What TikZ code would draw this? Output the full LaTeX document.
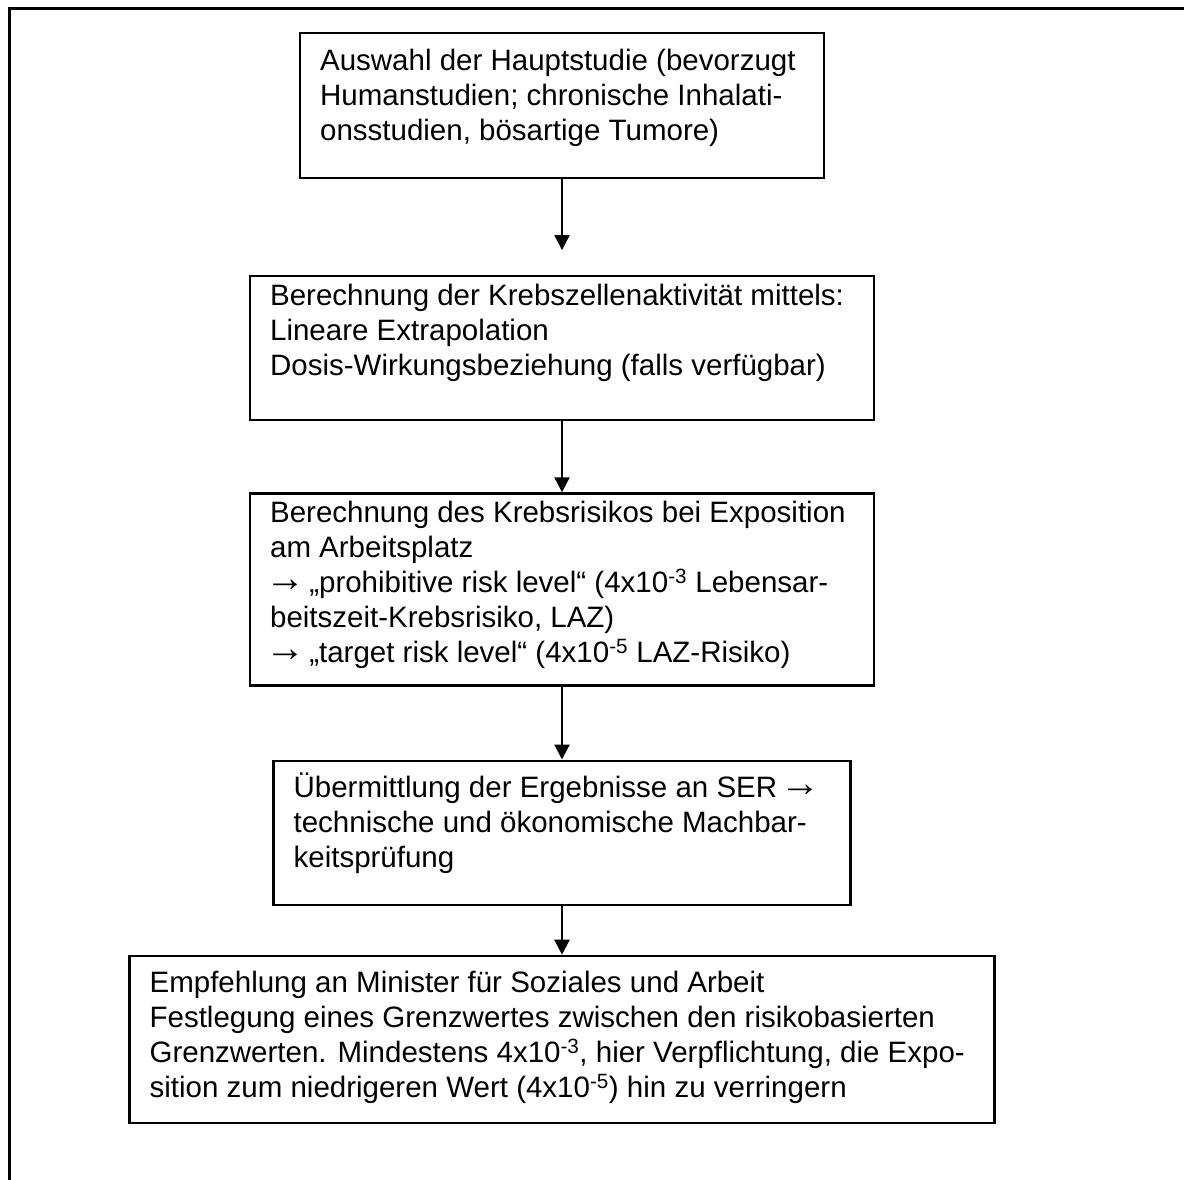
\documentclass[tikz,border=0pt]{standalone}
\usepackage{fontspec}
\setmainfont{Liberation Sans}
\newcommand{\rarr}{\kern-5pt\raisebox{1pt}{\fontsize{40}{35}\selectfont →}\kern-4pt}
\usepackage{tikz}
\usetikzlibrary{arrows.meta, positioning}

\begin{document}
\begin{tikzpicture}[
  x=1pt, y=-1pt,
  box/.style={draw, line width=2.2pt, inner sep=0pt},
  txt/.style={anchor=north west, align=left, inner xsep=21pt, inner ysep=13.5pt,
              font=\fontsize{29.5}{35}\selectfont},
  arr/.style={-{Triangle[length=15pt, width=15pt]}, line width=2.2pt},
  frame/.style={line width=3pt},
]
  \useasboundingbox (0,0) rectangle (1184,1180);
  \draw[frame] (1184,9) -| (9,1180);

  \node[box, minimum width=524pt, minimum height=145pt] (B1) at (562,105.5) {};
  \node[box, minimum width=624pt, minimum height=144pt, below=96pt of B1] (B2) {};
  \node[box, minimum width=624pt, minimum height=192pt, below=71pt of B2] (B3) {};
  \node[box, minimum width=577pt, minimum height=144pt, below=73pt of B3] (B4) {};
  \node[box, minimum width=865pt, minimum height=167pt, below=49pt of B4] (B5) {};

  \node[txt] (T1) at (B1.north west) {\strut Auswahl der Hauptstudie (bevorzugt\\ Humanstudien; chronische Inhalati-\\ onsstudien, bösartige Tumore)};
  \node[txt, inner ysep=5.5pt] (T2) at (B2.north west) {\strut Berechnung der Krebszellenaktivität mittels:\\ Lineare Extrapolation\\ Dosis-Wirkungsbeziehung (falls verfügbar)};
  \node[txt, inner ysep=5.5pt] (T3) at (B3.north west) {\strut Berechnung des Krebsrisikos bei Exposition\\ am Arbeitsplatz\\ \rarr\ „prohibitive risk level“ (4x10\textsuperscript{-3} Lebensar-\\ beitszeit-Krebsrisiko, LAZ)\\ \rarr\ „target risk level“ (4x10\textsuperscript{-5} LAZ-Risiko)};
  \node[txt] (T4) at (B4.north west) {\strut Übermittlung der Ergebnisse an SER \rarr\\ technische und ökonomische Machbar-\\ keitsprüfung};
  \node[txt] (T5) at (B5.north west) {\strut Empfehlung an Minister für Soziales und Arbeit\\ Festlegung eines Grenzwertes zwischen den risikobasierten\\ Grenzwerten. Mindestens 4x10\textsuperscript{-3}, hier Verpflichtung, die Expo-\\ sition zum niedrigeren Wert (4x10\textsuperscript{-5}) hin zu verringern};

  \draw[arr, shorten >=25pt] (B1) -- (B2);
  \draw[arr] (B2) -- (B3);
  \draw[arr] (B3) -- (B4);
  \draw[arr] (B4) -- (B5);
\end{tikzpicture}
\end{document}
